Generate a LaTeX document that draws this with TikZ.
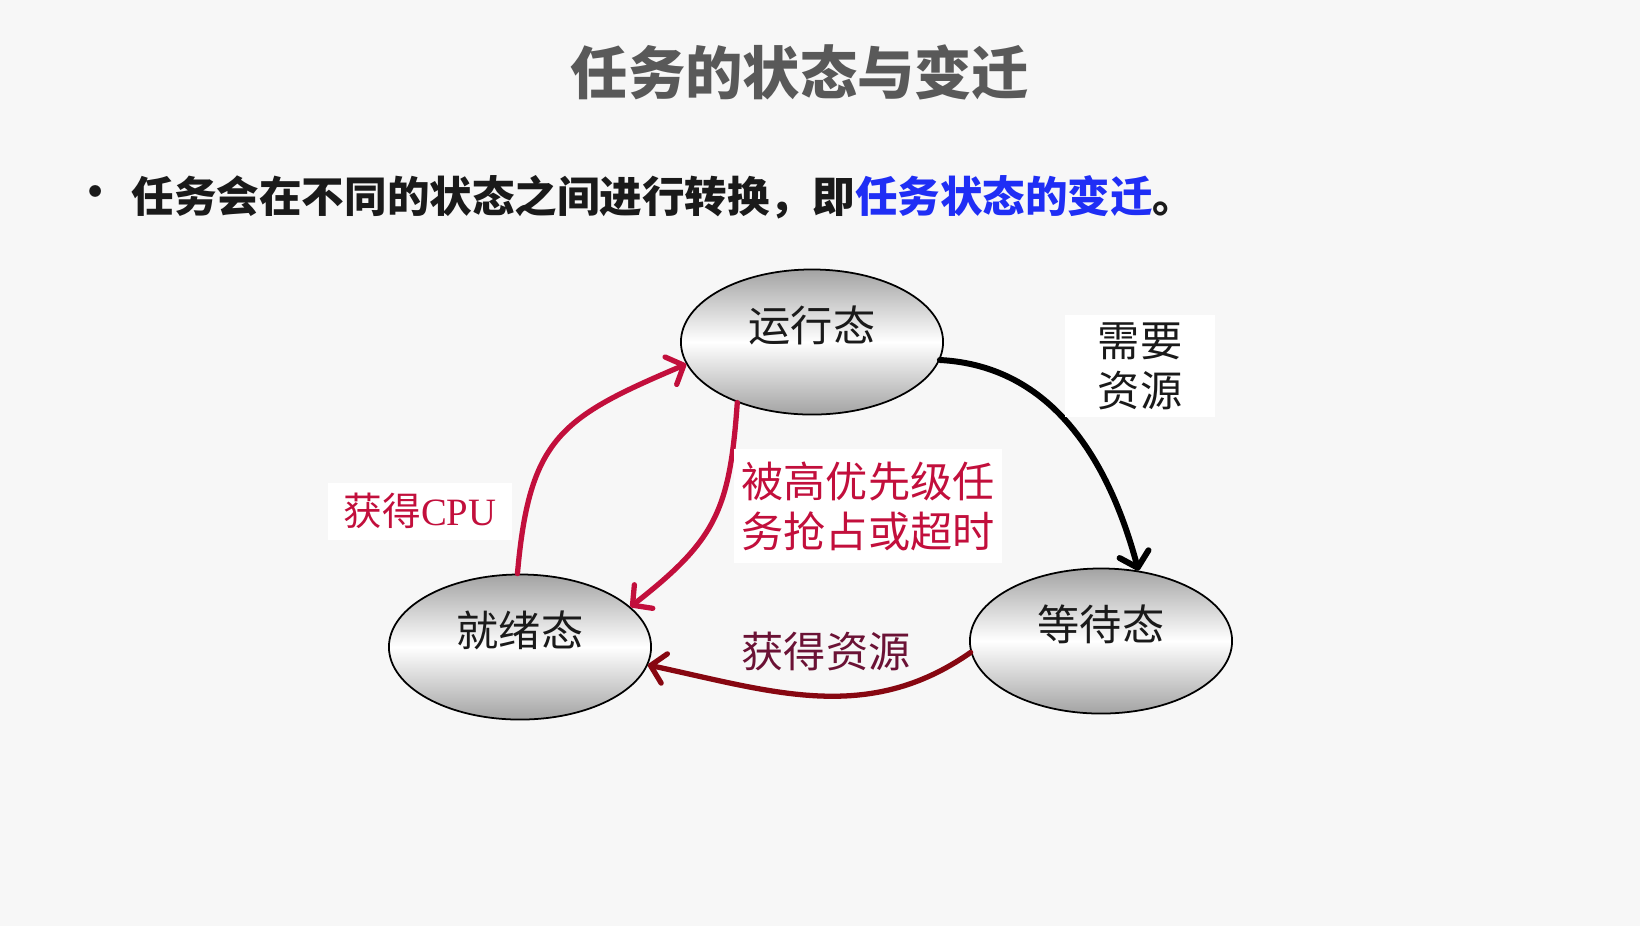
\documentclass[tikz,border=0pt]{standalone}
\usepackage{fontspec}
\setmainfont{Noto Sans CJK SC}
\newfontfamily\latserif{Liberation Serif}
\usepackage{tikz}
\usetikzlibrary{arrows.meta,positioning,shapes.geometric}
\definecolor{cBg}{HTML}{F7F7F7}
\definecolor{cTitle}{HTML}{595959}
\definecolor{cInk}{HTML}{1A1A1A}
\definecolor{cBlue}{HTML}{1F2EF5}
\definecolor{cRed}{HTML}{C20F3C}
\definecolor{cDark}{HTML}{870711}
\definecolor{cPlum}{HTML}{6B1235}
\definecolor{cShade}{HTML}{A3A3A3}
\tikzset{
  stnode/.style={ellipse,draw=black,line width=0.5pt,top color=cShade,bottom color=cShade,middle color=white,
    minimum width=2.62cm,minimum height=1.45cm,inner sep=0pt,text=cInk,font=\fontsize{12}{14}\selectfont,
    text height=0.3cm,text depth=0.32cm},
  arr/.style={-{Straight Barb[length=4pt,width=8.5pt,round]},line width=1.5pt,line cap=round},
  lbl/.style={fill=white,inner sep=2pt,font=\fontsize{12}{14.2}\selectfont},
}
\begin{document}
\begin{tikzpicture}[x=0.01cm,y=0.01cm]
    % page
    \fill[cBg] (0,0) rectangle (1640,-926);
    \useasboundingbox (0,0) rectangle (1640,-926);
    % heading
    \node[font=\fontsize{16.3}{19}\selectfont\bfseries,text=cTitle] (title) at (800,-72) {任务的状态与变迁};
    \node[font=\fontsize{12}{14}\selectfont\bfseries,text=cInk,inner sep=0pt] (dot) at (96,-197) {•};
    \node[anchor=west,font=\fontsize{12.1}{14}\selectfont\bfseries,text=cInk,inner sep=0pt] (intro) at (131,-197)
      {任务会在不同的状态之间进行转换，即\textcolor{cBlue}{任务状态的变迁}。};
    % states
    \node[stnode] (run) at (812,-342) {运行态};
    \node[stnode] (ready) at (520,-647) {就绪态};
    \node[stnode] (wait) at (1101,-641) {等待态};
    % transitions
    \draw[arr,cRed] (ready.92) to[out=85,in=203,looseness=1.3] (run.190);
    \draw[arr,cRed] (run.219) to[out=266,in=38,looseness=1.2] (ready.20);
    \draw[arr,black,line width=1.7pt] (run.-8) to[out=-3,in=105] (wait.62);
    \draw[arr,cDark] (wait.185) to[out=215,in=-12] (ready.-8);
    % labels
    \node[lbl,text=cRed,minimum width=1.83cm,minimum height=0.57cm,font=\fontsize{11}{13}\selectfont] (cpu) at (420,-511) {获得{\latserif CPU}};
    \node[lbl,text=cRed,minimum width=2.62cm,minimum height=1.13cm,align=left] (preempt) at (868,-506)
      {被高优先级任\\务抢占或超时};
    \node[lbl,text=cInk,minimum width=1.5cm,minimum height=1.0cm,align=center] (need) at (1140,-366) {需要\\资源};
    \node[font=\fontsize{12}{14}\selectfont,text=cPlum] (got) at (826,-651) {获得资源};
\end{tikzpicture}
\end{document}
